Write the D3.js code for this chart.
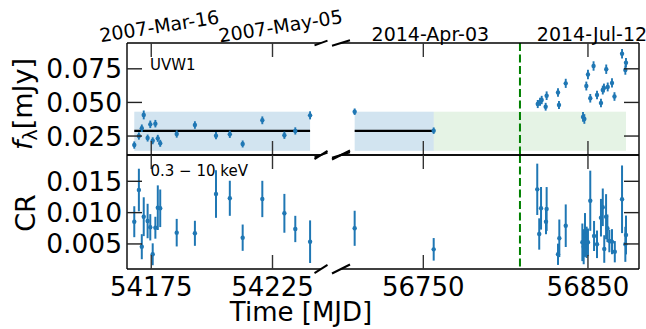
<!DOCTYPE html>
<html><head><meta charset="utf-8">
<script src="https://cdn.jsdelivr.net/npm/d3@7"></script>
<style>body{margin:0;background:#fff} text{font-family:"DejaVu Sans",sans-serif;fill:#000}</style>
</head><body>
<svg id="c" width="646" height="329"></svg>
<script>
// ---------- DATA ----------
// UVW1 flux densities (mJy)
const uvMjd = [54168.0,54169.9,54171.1,54171.9,54173.5,54174.6,54175.6,54176.7,54177.7,54178.7,
  54185.5,54193.0,54201.7,54207.4,54212.7,54220.8,54229.9,54234.4,54240.5,
  56708.3,56756.3,
  56819.5,56820.9,56821.9,56824.3,56824.9,56831.8,56832.4,56836.5,56847.0,56847.8,
  56849.0,56850.0,56851.4,56853.4,56855.5,56857.9,56859.0,56859.7,56861.1,56862.0,
  56864.6,56866.1,56870.7,56872.7,56873.1];
const uvFlux = [0.0183,0.0250,0.0308,0.0407,0.0235,0.0337,0.0215,0.0342,0.0233,0.0196,
  0.0265,0.0332,0.0253,0.0263,0.0191,0.0367,0.0256,0.0288,0.0404,
  0.0431,0.0290,
  0.0488,0.0505,0.0518,0.0468,0.0550,0.0574,0.0481,0.0642,0.0392,0.0377,
  0.0622,0.0708,0.0531,0.0771,0.0555,0.0496,0.0592,0.0607,0.0747,0.0615,
  0.0645,0.0544,0.0862,0.0741,0.0795];
const uvErr = [0.0027,0.0027,0.0028,0.0033,0.0026,0.0028,0.0026,0.0028,0.0026,0.0026,
  0.0027,0.0028,0.0027,0.0027,0.0026,0.0029,0.0027,0.0027,0.0030,
  0.0024,0.0024,
  0.0030,0.0030,0.0031,0.0029,0.0032,0.0032,0.0030,0.0034,0.0036,0.0036,
  0.0033,0.0035,0.0032,0.0035,0.0032,0.0031,0.0033,0.0033,0.0035,0.0033,
  0.0034,0.0032,0.0036,0.0035,0.0036];
// XRT 0.3-10 keV count rates
const xrMjd = [54168.0,54169.9,54171.1,54171.9,54173.5,54174.6,54175.6,54176.7,54177.7,54178.7,
  54185.5,54193.0,54201.7,54207.4,54212.7,54220.8,54229.9,54234.4,54240.5,
  56708.3,56756.3,
  56819.2,56820.4,56821.5,56824.5,56824.9,56831.8,56832.6,56836.5,56846.6,56847.4,
  56848.2,56849.2,56850.0,56851.4,56853.7,56855.5,56857.9,56859.0,56859.9,56861.0,
  56861.8,56863.0,56864.6,56866.3,56870.7,56872.7,56873.1];
const xrRate = [0.00855,0.01361,0.00456,0.00935,0.00866,0.00766,0.00335,0.00759,0.01079,0.01069,
  0.00680,0.00670,0.01297,0.01229,0.00600,0.01218,0.00989,0.00739,0.00536,
  0.00750,0.00414,
  0.01372,0.00659,0.01069,0.00855,0.01058,0.00335,0.00590,0.00791,0.00526,0.00456,
  0.00643,0.00526,0.00526,0.01190,0.00627,0.00494,0.00919,0.01085,0.00419,0.00935,
  0.00750,0.00547,0.00536,0.00376,0.01213,0.00494,0.00643];
const xrErr = [0.00247,0.00340,0.00200,0.00310,0.00275,0.00210,0.00175,0.00175,0.00356,0.00300,
  0.00220,0.00200,0.00380,0.00280,0.00210,0.00290,0.00310,0.00210,0.00340,
  0.00280,0.00180,
  0.00410,0.00250,0.00340,0.00200,0.00350,0.00170,0.00300,0.00340,0.00300,0.00280,
  0.00350,0.00250,0.00220,0.00480,0.00240,0.00220,0.00300,0.00300,0.00220,0.00360,
  0.00220,0.00180,0.00200,0.00170,0.00540,0.00280,0.00310];
// quiescent level and bands
const quiescentMean = 0.0289, quiescentLo = 0.0140, quiescentHi = 0.0431;
const quiescentSegments = [[54168.0,54240.5],[56708.3,56756.3]];
const flareSegment = [56756.3,56873.1];
const markerMjd = 56808.7;
// axes
const leftDomain = [54165,54245], rightDomain = [56700,56881];
const leftTicks = [54175,54225], rightTicks = [56750,56850];
const leftDates = ["2007-Mar-16","2007-May-05"], rightDates = ["2014-Apr-03","2014-Jul-12"];
const fluxDomain = [0.0109,0.0942], rateDomain = [0.001,0.0192];
const fluxTicks = [0.025,0.050,0.075], rateTicks = [0.005,0.010,0.015];

// ---------- LAYOUT ----------
const svg = d3.select("#c");
const C0 = "#1f77b4";
const cols = [
  {x: d3.scaleLinear().domain(leftDomain).range([127,321]), ticks: leftTicks, dates: leftDates, side:"left"},
  {x: d3.scaleLinear().domain(rightDomain).range([341,639]), ticks: rightTicks, dates: rightDates, side:"right"}
];
const rows = [
  {y: d3.scaleLinear().domain(fluxDomain).range([155,43]), ticks: fluxTicks, fmt: d3.format(".3f"),
   t: uvMjd, v: uvFlux, e: uvErr, slash: 2.7},
  {y: d3.scaleLinear().domain(rateDomain).range([269,155]), ticks: rateTicks, fmt: d3.format(".3f"),
   t: xrMjd, v: xrRate, e: xrErr, slash: 4.5}
];

const defs = svg.append("defs");
cols.forEach((c,ci)=>rows.forEach((r,ri)=>{
  const [x0,x1]=c.x.range(), [y1,y0]=r.y.range();
  defs.append("clipPath").attr("id",`cp${ci}${ri}`).append("rect")
    .attr("x",x0).attr("y",y0).attr("width",x1-x0).attr("height",y1-y0);
}));

cols.forEach((c,ci)=>rows.forEach((r,ri)=>{
  const g = svg.append("g").attr("clip-path",`url(#cp${ci}${ri})`);
  const x=c.x, y=r.y;
  if (ri===0){
    quiescentSegments.forEach(s=>{
      g.append("rect").attr("x",x(s[0])).attr("width",x(s[1])-x(s[0]))
        .attr("y",y(quiescentHi)).attr("height",y(quiescentLo)-y(quiescentHi))
        .attr("fill",C0).attr("fill-opacity",0.2);
    });
    g.append("rect").attr("x",x(flareSegment[0])).attr("width",x(flareSegment[1])-x(flareSegment[0]))
      .attr("y",y(quiescentHi)).attr("height",y(quiescentLo)-y(quiescentHi))
      .attr("fill","#2ca02c").attr("fill-opacity",0.12);
    quiescentSegments.forEach(s=>{
      g.append("line").attr("x1",x(s[0])).attr("x2",x(s[1]))
        .attr("y1",y(quiescentMean)).attr("y2",y(quiescentMean))
        .attr("stroke","#000").attr("stroke-width",2.2);
    });
  }
  const idx = d3.range(r.t.length);
  g.selectAll(null).data(idx).join("line")
    .attr("x1",i=>x(r.t[i])).attr("x2",i=>x(r.t[i]))
    .attr("y1",i=>y(r.v[i]-r.e[i])).attr("y2",i=>y(r.v[i]+r.e[i]))
    .attr("stroke",C0).attr("stroke-width",ri===0?1.9:2);
  g.selectAll(null).data(idx).join("circle")
    .attr("cx",i=>x(r.t[i])).attr("cy",i=>y(r.v[i])).attr("r",2.2).attr("fill",C0);
  // marker line
  g.append("line").attr("x1",x(markerMjd)).attr("x2",x(markerMjd))
    .attr("y1",y.range()[1]).attr("y2",y.range()[0])
    .attr("stroke","#008000").attr("stroke-width",2).attr("stroke-dasharray","8,3.5");
}));

// spines, ticks
cols.forEach((c,ci)=>rows.forEach((r,ri)=>{
  const [x0,x1]=c.x.range(), [yb,yt]=r.y.range();
  const g = svg.append("g").attr("stroke","#000").attr("stroke-width",1.4).attr("fill","none");
  g.append("line").attr("x1",x0).attr("x2",x1).attr("y1",yt).attr("y2",yt);
  g.append("line").attr("x1",x0).attr("x2",x1).attr("y1",yb).attr("y2",yb);
  const sx = c.side==="left"?x0:x1;
  g.append("line").attr("x1",sx).attr("x2",sx).attr("y1",yt).attr("y2",yb);
  // x ticks inward top & bottom
  c.ticks.forEach(t=>{
    g.append("line").attr("x1",c.x(t)).attr("x2",c.x(t)).attr("y1",yt).attr("y2",yt+14).attr("stroke","#333");
    g.append("line").attr("x1",c.x(t)).attr("x2",c.x(t)).attr("y1",yb).attr("y2",yb-14).attr("stroke","#333");
  });
  r.ticks.forEach(t=>{
    const dir = c.side==="left"?1:-1;
    g.append("line").attr("x1",sx).attr("x2",sx+dir*15).attr("y1",r.y(t)).attr("y2",r.y(t)).attr("stroke","#222");
  });
  // break slashes
  const bx = c.side==="left"?x1:x0, hw = c.side==="left"?6.5:9, dy = c.side==="left"?r.slash*0.9:r.slash;
  [yt,yb].forEach(yy=>{
    g.append("line").attr("x1",bx-hw).attr("x2",bx+hw).attr("y1",yy+dy).attr("y2",yy-dy)
      .attr("stroke-width",2);
  });
  // y tick labels (left only)
  if (c.side==="left"){
    r.ticks.forEach(t=>{
      svg.append("text").attr("x",x0-5).attr("y",r.y(t)).attr("dy","0.36em")
        .attr("text-anchor","end").attr("font-size",26.5).text(r.fmt(t));
    });
  }
}));

// bottom x tick labels
cols.forEach(c=>{
  c.ticks.forEach(t=>{
    svg.append("text").attr("x",c.x(t)).attr("y",295.5).attr("text-anchor","middle")
      .attr("font-size",26).text(t);
  });
});
// top date labels
cols.forEach(c=>{
  c.ticks.forEach((t,i)=>{
    if (c.side==="left"){
      const cx=c.x(t)+8, cy=26;
      svg.append("text").attr("transform",`translate(${cx},${cy}) rotate(-9)`)
        .attr("text-anchor","middle").attr("dy","0.36em").attr("font-size",19).text(c.dates[i]);
    } else {
      svg.append("text").attr("x",c.x(t)+(i===0?7:4)).attr("y",40.5).attr("text-anchor","middle")
        .attr("font-size",19).text(c.dates[i]);
    }
  });
});

// panel annotations
svg.append("text").attr("x",cols[0].x.range()[0]+23).attr("y",70).attr("font-size",15).text("UVW1");
svg.append("text").attr("x",cols[0].x.range()[0]+23.5).attr("y",175.5).attr("font-size",15).text("0.3 \u2212 10 keV");

// axis labels
svg.append("text").attr("x",301).attr("y",321).attr("text-anchor","middle").attr("font-size",26).text("Time [MJD]");
const fl = svg.append("text").attr("transform","translate(31.5,104) rotate(-90)").attr("text-anchor","middle").attr("font-size",27);
fl.append("tspan").attr("font-style","italic").text("f");
fl.append("tspan").attr("font-size",19).attr("dy",5).text("\u03bb");
fl.append("tspan").attr("dy",-5).text("[mJy]");
svg.append("text").attr("transform","translate(34.5,213) rotate(-90)").attr("text-anchor","middle").attr("font-size",27).text("CR");
</script>
</body></html>
